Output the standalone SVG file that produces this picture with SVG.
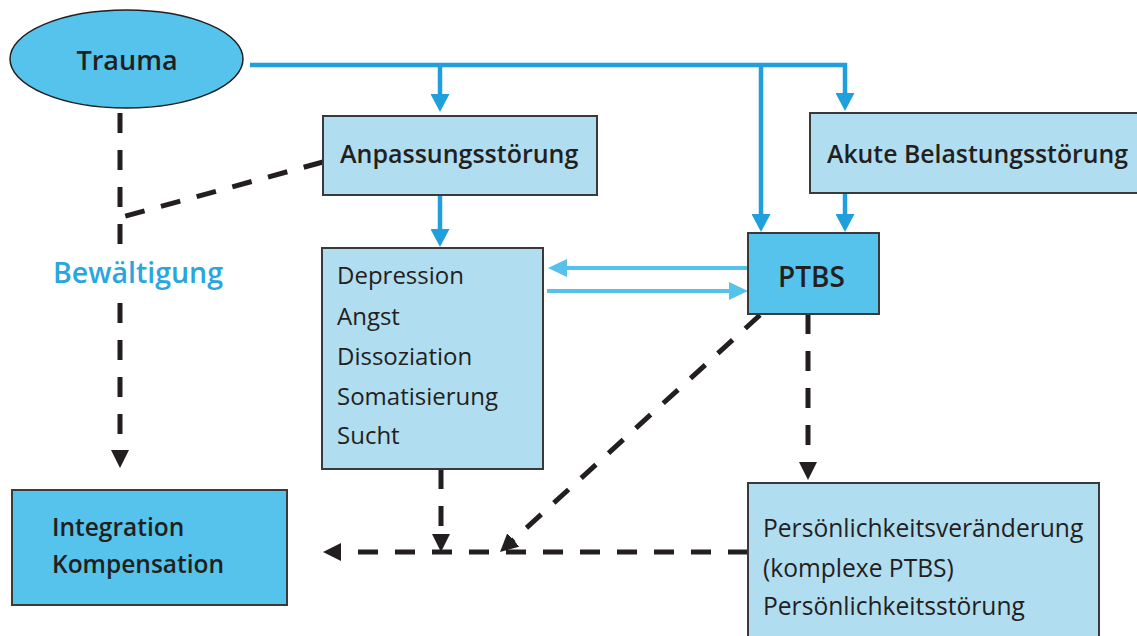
<svg xmlns="http://www.w3.org/2000/svg" width="1137" height="636" viewBox="0 0 1137 636">
<style>
  .box { stroke: #3a3a3a; stroke-width: 2; }
  .light { fill: #b1ddf0; }
  .dark { fill: #55c3ec; }
  .t { font-family: "Open Sans", "Noto Sans", sans-serif; fill: #231f20; }
  .b { font-weight: 600; }
  .blue { fill: none; stroke: #1fa0dc; stroke-width: 4.5; stroke-linejoin: miter; }
  .lblue { fill: none; stroke: #56c1eb; stroke-width: 4; }
  .dash { fill: none; stroke: #231f20; stroke-width: 5; stroke-dasharray: 20 17; }
</style>
<defs>
  <marker id="ab" markerUnits="userSpaceOnUse" viewBox="0 0 18 19" markerWidth="18" markerHeight="19" refX="8" refY="9.5" orient="auto">
    <path d="M0,0 L18,9.5 L0,19 z" fill="#1fa0dc"/>
  </marker>
  <marker id="al" markerUnits="userSpaceOnUse" viewBox="0 0 19 18" markerWidth="19" markerHeight="18" refX="9" refY="9" orient="auto">
    <path d="M0,0 L19,9 L0,18 z" fill="#56c1eb"/>
  </marker>
  <marker id="ak" markerUnits="userSpaceOnUse" viewBox="0 0 18 18" markerWidth="18" markerHeight="18" refX="8" refY="9" orient="auto">
    <path d="M0,0 L18,9 L0,18 z" fill="#231f20"/>
  </marker>
</defs>
<rect width="1137" height="636" fill="#ffffff"/>

<g id="connectors">
  <path class="blue" d="M250,65 H845 V101" marker-end="url(#ab)"/>
  <path class="blue" d="M440,65 V102" marker-end="url(#ab)"/>
  <path class="blue" d="M761,65 V222" marker-end="url(#ab)"/>
  <path class="blue" d="M440,196 V237" marker-end="url(#ab)"/>
  <path class="blue" d="M845,194 V222" marker-end="url(#ab)"/>
  <path class="lblue" d="M748,268 H558" marker-end="url(#al)"/>
  <path class="lblue" d="M547,291 H738" marker-end="url(#al)"/>
  <path class="dash" d="M120,113 V245"/>
  <path class="dash" d="M120,303 V458" marker-end="url(#ak)"/>
  <path class="dash" d="M323,162 L122,217"/>
  <path class="dash" d="M441,469 V542" marker-end="url(#ak)"/>
  <path class="dash" d="M808,314 V470" marker-end="url(#ak)"/>
  <path class="dash" d="M760,315 L507.4,545.3" marker-end="url(#ak)"/>
  <path class="dash" d="M748,552 H333" marker-end="url(#ak)"/>
</g>

<g id="trauma">
  <ellipse cx="126.5" cy="59" rx="116.5" ry="49" fill="#55c3ec" stroke="#231f20" stroke-width="1.5"/>
  <text class="t b" x="127" y="70" font-size="27" text-anchor="middle">Trauma</text>
</g>

<g id="anpassung">
  <rect class="box light" x="323" y="116" width="274" height="79"/>
  <text class="t b" x="340" y="163" font-size="25">Anpassungsstörung</text>
</g>

<g id="akute">
  <rect class="box light" x="810" y="113" width="340" height="80"/>
  <text class="t b" x="827" y="163" font-size="24.8">Akute Belastungsstörung</text>
</g>

<g id="ptbs">
  <rect class="box dark" x="748" y="233" width="131" height="81"/>
  <text class="t b" x="778" y="287" font-size="28">PTBS</text>
</g>

<g id="symptome">
  <rect class="box light" x="322" y="248" width="221" height="221"/>
  <text class="t" x="337" y="284" font-size="24">Depression</text>
  <text class="t" x="337" y="325" font-size="24">Angst</text>
  <text class="t" x="337" y="365" font-size="24">Dissoziation</text>
  <text class="t" x="337" y="405" font-size="24">Somatisierung</text>
  <text class="t" x="337" y="444" font-size="24">Sucht</text>
</g>

<g id="bewaeltigung">
  <text class="b" x="53" y="283" font-size="28.5" font-family="Open Sans, Noto Sans, sans-serif" fill="#29a6de">Bewältigung</text>
</g>

<g id="integration">
  <rect class="box dark" x="12" y="490" width="275" height="115"/>
  <text class="t b" x="52" y="536" font-size="24.5">Integration</text>
  <text class="t b" x="52" y="573" font-size="24.5">Kompensation</text>
</g>

<g id="persoenlichkeit">
  <rect class="box light" x="748" y="483" width="351" height="200"/>
  <text class="t" x="763" y="537" font-size="24.6">Persönlichkeitsveränderung</text>
  <text class="t" x="763" y="577" font-size="24.6">(komplexe PTBS)</text>
  <text class="t" x="763" y="615" font-size="24.6">Persönlichkeitsstörung</text>
</g>
</svg>
